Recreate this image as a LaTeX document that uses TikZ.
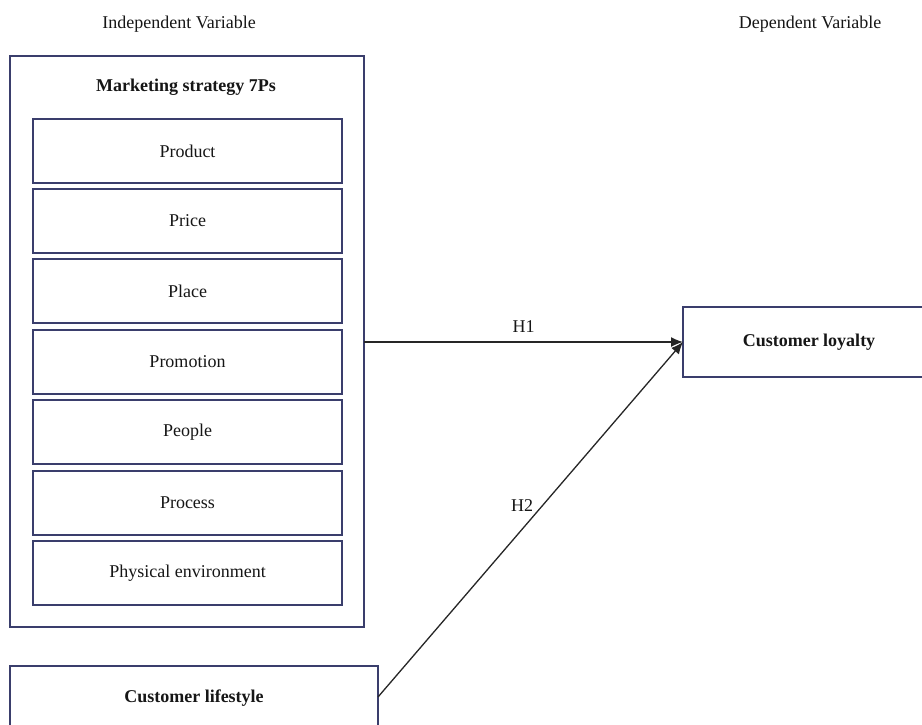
\documentclass[tikz,border=0pt]{standalone}
\usepackage{fontspec}
\setmainfont{Liberation Serif}
\usetikzlibrary{arrows.meta,positioning}
\definecolor{boxline}{HTML}{3A3E6C}
\definecolor{txt}{HTML}{161616}
\begin{document}
\begin{tikzpicture}[x=1pt,y=-1pt,
  frame/.style={draw=boxline,line width=1.3pt,inner sep=0pt,outer sep=0pt},
  lbl/.style={text=txt,font=\fontsize{18}{21}\selectfont,inner sep=0pt},
  blbl/.style={text=txt,font=\fontsize{18}{21}\selectfont\bfseries,inner sep=0pt},
  conn/.style={draw=black!85,line width=1.3pt,-{Latex[length=12pt,width=10pt]}}]
\useasboundingbox[fill=white] (0,0) rectangle (922,724);
% headings
\node[lbl] (iv) at (179,24) {Independent Variable};
\node[lbl] (dv) at (810,24) {Dependent Variable};
% outer box
\node[frame,minimum width=354pt,minimum height=571pt,anchor=north west] (outer) at (10,56) {};
\node[blbl] (mkt) at (186,87) {Marketing strategy 7Ps};
% inner boxes
\foreach \n/\t/\y in {prod/Product/119, price/Price/189, place/Place/259, promo/Promotion/330, people/People/400, proc/Process/471, phys/Physical environment/541}{
  \node[frame,minimum width=309pt,minimum height=64pt,anchor=north west] (\n) at (33,\y) {};
  \node[lbl] at (\n.center) {\t};
}
% customer loyalty
\node[frame,minimum width=245pt,minimum height=70pt,anchor=north west] (loy) at (683,307) {};
\node[blbl] (loyt) at (809,342) {Customer loyalty};
% customer lifestyle
\node[frame,minimum width=368pt,minimum height=80pt,anchor=north west] (life) at (10,666) {};
\node[blbl] (lifet) at (194,698) {Customer lifestyle};
% connectors
\coordinate (tip) at (683,342);
\draw[conn] (outer.east |- tip) -- (tip) node[midway,above=9pt,lbl] {H1};
\coordinate (lstart) at (378,697);
\draw[conn] (lstart) -- (tip);
\node[lbl] (h2) at (522,506) {H2};
\end{tikzpicture}
\end{document}
